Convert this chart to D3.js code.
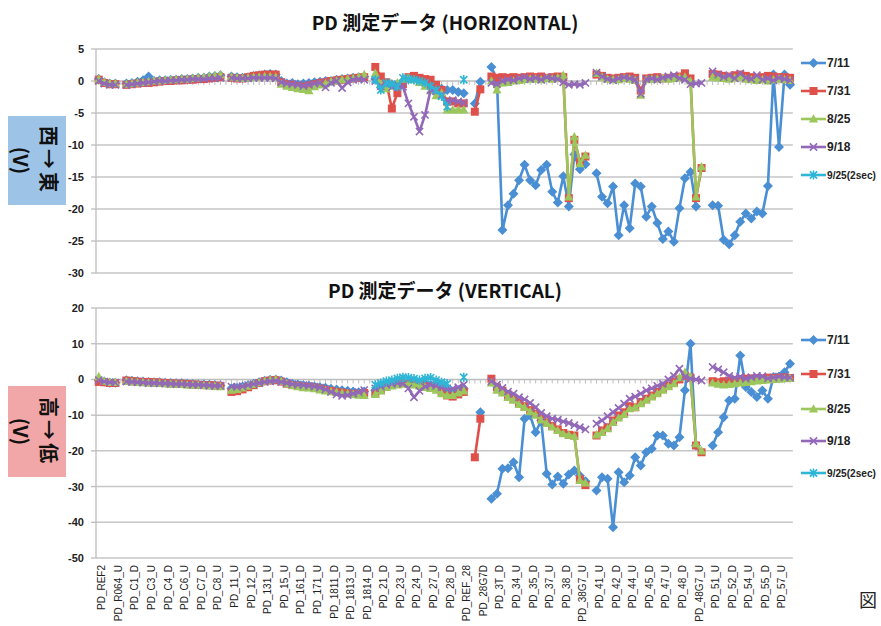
<!DOCTYPE html>
<html>
<head>
<meta charset="utf-8">
<script src="https://cdn.jsdelivr.net/npm/d3@7"></script>
<style>
body { margin: 0; background: #fff; }
svg { display: block; }
text { font-family: "Liberation Sans", Arial, sans-serif; }
.jp { font-family: "Noto Sans CJK JP", "Liberation Sans", sans-serif; }
</style>
</head>
<body>
<div id="chart"></div>
<script>
var _ = null;

// 126 measuring points (only every third name is printed on the axis)
var categories = [
  "PD_REF2","PD_REF3","PD_R064_D","PD_R064_U","PD_C0_D","PD_C1_U","PD_C1_D","PD_C2_U","PD_C2_D","PD_C3_U",
  "PD_C3_D","PD_C4_U","PD_C4_D","PD_C5_U","PD_C5_D","PD_C6_U","PD_C6_D","PD_C7_U","PD_C7_D","PD_C80_D",
  "PD_C8_D","PD_C8_U","PD_10_U","PD_11_D","PD_11_U","PD_121_D","PD_12_U","PD_12_D","PD_13_U","PD_131_D",
  "PD_131_U","PD_14_D","PD_15_D","PD_15_U","PD_16_U","PD_161_U","PD_161_D","PD_17_D","PD_171_D","PD_171_U",
  "PD_18_U","PD_1811_U","PD_1811_D","PD_1812_U","PD_1813_D","PD_1813_U","PD_1814_U","PD_1815_D","PD_1814_D","PD_21_U",
  "PD_22_D","PD_21_D","PD_22_U","PD_23_D","PD_23_U","PD_24_U","PD_25_D","PD_24_D","PD_26_U","PD_27_D",
  "PD_27_U","PD_28_U","PD_29_D","PD_28_D","PD_REF_21","PD_REF_24","PD_REF_28","PD_28G7U","PD_3T_U","PD_28G7D",
  "PD_31_U","PD_32_D","PD_3T_D","PD_33_U","PD_34_D","PD_34_U","PD_35_U","PD_36_D","PD_35_D","PD_36_U",
  "PD_37_D","PD_37_U","PD_38_U","PD_39_D","PD_38_D","PD_38G7_D","PD_39_U","PD_38G7_U","PD_41_D","PD_40_U",
  "PD_41_U","PD_42_U","PD_43_D","PD_42_D","PD_43_U","PD_44_D","PD_44_U","PD_45_U","PD_46_D","PD_45_D",
  "PD_46_U","PD_47_D","PD_47_U","PD_48_U","PD_49_D","PD_48_D","PD_48G7_D","PD_49_U","PD_48G7_U","PD_51_D",
  "PD_50_U","PD_51_U","PD_52_U","PD_53_D","PD_52_D","PD_53_U","PD_54_D","PD_54_U","PD_55_U","PD_56_D",
  "PD_55_D","PD_56_U","PD_57_D","PD_57_U","PD_58_D","PD_58_U"
];

var seriesNames = ["7/11", "7/31", "8/25", "9/18", "9/25(2sec)"];

// ---- HORIZONTAL (top) ----
var hBlue = [
  0.3, -0.2, -0.4, -0.4, _,
  -0.4, -0.3, -0.1, 0.1, 0.7, 0.0, 0.1, 0.1, 0.2, 0.2, 0.3, 0.3, 0.4, 0.5, 0.5, 0.7, 0.8, 0.9, _,
  0.7, 0.6, 0.5, 0.6, 0.8, 0.9, 1.0, 1.1, 1.0, 0.0, -0.4, -0.3, -0.5, -0.4, -0.3, -0.2, -0.1, 0.0, 0.0, 0.2, 0.3, 0.4, 0.5, 0.6, 0.7, _,
  0.3, -1.0, -0.5, -0.6, -0.5, 0.0, 0.3, 0.4, 0.2, 0.0, -0.6, -1.0, -1.2, -1.4, -1.4, -1.7, -1.9, _,
  -3.5, -0.1, _,
  2.2, 0.2, -23.3, -19.4, -17.6, -15.5, -13.1, -15.5, -16.3, -13.9, -13.1, -17.3, -19.0, -14.9, -19.6, -11.5, -13.8, -13.0, _,
  -14.4, -18.1, -19.1, -16.5, -24.1, -19.4, -23.0, -16.0, -16.5, -21.2, -19.6, -22.2, -24.7, -23.5, -25.1, -19.9, -15.2, -14.2, -19.6, _, _,
  -19.4, -19.5, -24.8, -25.5, -24.1, -22.0, -20.7, -21.5, -20.4, -20.7, -16.4, 1.0, -10.3, 1.0, -0.6
];
var hRed = [
  0.2, -0.3, -0.5, -0.5, _,
  -0.6, -0.5, -0.4, -0.3, -0.3, -0.2, -0.1, 0.0, 0.0, 0.1, 0.1, 0.2, 0.2, 0.3, 0.3, 0.4, 0.5, 0.6, _,
  0.5, 0.4, 0.4, 0.6, 0.8, 0.9, 1.0, 1.0, 1.0, -0.2, -0.5, -0.6, -0.8, -0.9, -0.7, -0.5, -0.3, -0.2, 0.0, 0.1, 0.2, 0.3, 0.4, 0.5, 0.6, _,
  2.2, 0.7, -0.2, -4.3, -1.9, -0.5, 0.6, 0.8, 0.5, 0.3, 0.2, -0.6, -1.4, -3.2, -3.2, -3.5, -3.5, _,
  -4.8, -1.3, _,
  0.7, 0.5, 0.6, 0.5, 0.6, 0.5, 0.6, 0.7, 0.6, 0.7, 0.5, 0.6, 0.7, 0.6, -18.3, -9.2, -12.6, -11.8, _,
  1.0, 0.8, 0.5, 0.4, 0.5, 0.6, 0.7, 0.5, -1.5, 0.4, 0.5, 0.6, 0.4, 0.5, 0.6, 0.7, 1.2, 0.4, -18.3, -13.6, _,
  1.1, 1.0, 0.8, 0.7, 0.9, 1.0, 0.8, 0.6, 0.5, 0.6, 0.8, 0.7, 0.6, 0.6, 0.5
];
var hGreen = [
  0.3, -0.2, -0.4, -0.4, _,
  -0.5, -0.4, -0.3, -0.2, -0.1, 0.0, 0.0, 0.1, 0.2, 0.2, 0.3, 0.3, 0.4, 0.5, 0.6, 0.7, 0.8, 1.0, _,
  0.6, 0.5, 0.4, 0.5, 0.6, 0.6, 0.7, 0.7, 0.6, -0.5, -0.8, -1.0, -1.2, -1.3, -1.5, -0.9, -0.6, -0.4, -0.1, 0.0, 0.2, 0.3, 0.4, 0.6, 1.0, _,
  1.2, -0.5, -1.2, -0.8, -0.3, 0.3, 0.5, 0.2, -0.2, -0.8, -1.5, -2.3, -1.9, -4.5, -4.5, -4.5, -4.5, _,
  _, _, _,
  0.0, -1.4, -0.3, -0.2, 0.0, 0.1, 0.2, 0.3, 0.3, 0.2, 0.4, 0.3, 0.5, 0.9, -18.1, -8.7, -12.9, -11.6, _,
  1.2, 0.6, 0.3, 0.2, 0.2, 0.4, 0.3, 0.1, -2.2, 0.2, 0.3, 0.3, 0.4, 0.3, 0.4, 0.5, 0.6, 0.0, -18.1, -13.4, _,
  0.6, 0.5, 0.4, 0.3, 0.5, 0.6, 0.3, 0.2, 0.1, 0.2, 0.0, 0.2, 0.3, 0.2, 0.1
];
var hPurple = [
  0.0, -0.4, -0.6, -0.6, _,
  -0.6, -0.5, -0.4, -0.3, -0.2, -0.1, 0.0, 0.0, 0.1, 0.1, 0.2, 0.2, 0.3, 0.3, 0.3, 0.4, 0.4, 0.5, _,
  0.5, 0.4, 0.4, 0.4, 0.5, 0.5, 0.5, 0.5, 0.4, -0.2, -0.4, -0.5, -0.6, -0.8, -0.6, -0.4, -0.3, -1.0, -0.3, 0.0, -1.1, -0.2, 0.2, 0.3, 0.2, _,
  0.0, -0.8, -0.5, -1.0, -0.6, -0.9, -3.5, -5.6, -7.9, -5.3, -1.4, -1.6, -2.2, -3.2, -3.0, -3.2, -3.4, _,
  _, _, _,
  -0.3, -0.5, 0.0, 0.2, 0.1, 0.4, 0.6, 0.3, 0.5, 0.2, 0.6, 0.4, 0.3, -0.2, -0.6, -0.5, -0.6, -0.3, _,
  1.3, 0.7, 0.3, 0.1, 0.4, 0.6, 0.4, 0.2, -2.0, 0.3, 0.4, 0.2, 0.5, 0.7, 0.9, 0.4, 0.2, -0.5, -0.4, -0.3, _,
  1.5, 1.0, 0.6, 0.9, 0.4, 1.2, 0.5, 0.3, 0.9, 0.2, 0.4, 0.1, 0.5, 0.3, 0.1
];
// 9/25 was only measured from point 50 on
var hCyanStart = 50;
var hCyan = [0.2, -1.4, -0.3, -0.5, -0.9, 0.5, 0.3, 0.2, 0.0, -0.3, -0.8, -1.4, -2.4, -4.0, _, _, 0.2];

// ---- VERTICAL (bottom) ----
var vBlue = [
  -0.3, -0.6, -0.9, -0.9, _,
  -0.2, -0.4, -0.5, -0.6, -0.7, -0.8, -0.8, -0.9, -1.0, -1.1, -1.1, -1.2, -1.3, -1.4, -1.4, -1.5, -1.6, -1.7, _,
  -2.5, -2.3, -2.0, -1.6, -1.2, -0.8, -0.4, -0.1, 0.0, -0.3, -0.8, -1.2, -1.4, -1.6, -1.8, -2.0, -2.2, -2.3, -2.6, -2.8, -3.0, -3.2, -3.4, -3.6, -3.4, _,
  -3.0, -2.2, -1.5, -1.0, -0.8, -0.6, -0.6, -0.8, -1.0, -1.2, -1.5, -1.8, -2.5, -3.2, -3.4, -3.0, -2.6, _,
  _, -9.2, _,
  -33.4, -32.0, -25.0, -24.9, -23.2, -27.4, -11.0, -10.1, -14.8, -11.5, -26.4, -29.4, -27.2, -29.2, -26.6, -25.5, -27.0, -28.5, _,
  -31.1, -27.4, -27.8, -41.4, -26.0, -28.8, -26.9, -21.8, -24.1, -20.4, -19.4, -15.7, -15.7, -18.0, -18.5, -16.2, -3.0, 10.0, -18.5, _, _,
  -18.5, -14.8, -10.6, -5.9, -5.4, 6.7, -2.1, -3.5, -4.9, -3.1, -5.4, 0.7, 0.8, 2.0, 4.4
];
var vRed = [
  -0.7, -0.8, -1.0, -1.0, _,
  -0.3, -0.5, -0.6, -0.7, -0.7, -0.8, -0.9, -1.0, -1.1, -1.2, -1.2, -1.3, -1.4, -1.5, -1.6, -1.6, -1.7, -1.8, _,
  -3.5, -3.3, -2.8, -2.2, -1.6, -1.0, -0.5, -0.3, -0.2, -0.6, -1.2, -1.6, -1.8, -2.0, -2.1, -2.3, -2.6, -2.9, -3.2, -3.5, -3.7, -3.9, -4.1, -4.0, -3.8, _,
  -4.0, -3.0, -2.0, -1.5, -1.2, -1.0, -1.0, -1.2, -1.5, -1.8, -2.0, -2.4, -3.5, -4.5, -4.8, -4.2, -3.5, _,
  -21.8, -11.0, _,
  0.2, -2.2, -3.2, -4.6, -5.5, -6.6, -7.5, -8.6, -9.6, -11.0, -12.0, -13.0, -14.0, -15.0, -15.5, -15.7, -28.0, -29.6, _,
  -15.7, -14.3, -13.4, -11.5, -10.1, -9.2, -7.5, -7.8, -6.3, -5.4, -4.5, -3.5, -2.6, -1.7, -0.7, 0.0, 1.0, 0.5, -18.5, -20.4, _,
  -0.5, -0.8, -0.5, -0.3, -0.2, 0.0, 0.2, 0.3, 0.4, 0.3, 0.5, 0.4, 0.5, 0.6, 0.4
];
var vGreen = [
  0.8, -0.5, -0.8, -0.8, _,
  -0.5, -0.7, -0.8, -0.9, -1.0, -1.0, -1.1, -1.2, -1.3, -1.3, -1.4, -1.5, -1.6, -1.6, -1.7, -1.8, -1.9, -2.0, _,
  -3.0, -2.8, -2.4, -1.9, -1.4, -0.9, -0.5, -0.2, 0.0, -0.5, -1.2, -1.7, -2.0, -2.3, -2.4, -2.6, -2.9, -3.2, -3.4, -3.6, -3.8, -4.0, -4.2, -4.4, -4.5, _,
  -4.2, -3.2, -2.2, -1.8, -1.5, -1.3, -1.3, -1.5, -1.8, -2.2, -2.5, -3.0, -4.0, -4.5, -4.5, -3.8, -3.2, _,
  _, _, _,
  -1.0, -3.0, -3.8, -5.0, -5.8, -7.0, -7.8, -9.0, -10.0, -11.3, -12.3, -13.3, -14.3, -15.2, -15.6, -15.9, -28.3, -29.0, _,
  -15.5, -14.8, -13.8, -12.0, -10.8, -9.8, -8.2, -7.8, -6.8, -5.8, -4.9, -4.0, -3.0, -2.0, -1.2, 0.5, 2.0, 0.8, -18.0, -20.0, _,
  -1.0, -1.3, -1.5, -1.4, -1.2, -1.0, -0.8, -0.6, -0.4, -0.3, -0.1, 0.0, 0.1, 0.2, 0.3
];
var vPurple = [
  -0.2, -0.6, -0.8, -0.9, _,
  -0.6, -0.7, -0.8, -0.9, -1.0, -1.0, -1.1, -1.1, -1.2, -1.3, -1.3, -1.4, -1.5, -1.5, -1.6, -1.7, -1.8, -1.8, _,
  -2.0, -2.1, -1.9, -1.6, -1.3, -1.0, -0.7, -0.5, -0.4, -0.7, -1.0, -1.3, -1.5, -1.6, -1.8, -2.0, -2.3, -2.8, -3.5, -4.2, -4.6, -4.4, -4.0, -3.6, -3.0, _,
  -2.5, -2.0, -1.5, -1.2, -1.0, -1.2, -2.5, -5.0, -3.2, -2.0, -1.5, -1.8, -2.2, -2.5, -2.6, -2.2, -1.5, _,
  _, _, _,
  -0.5, -1.5, -2.4, -3.4, -4.0, -5.0, -5.6, -6.6, -7.8, -9.4, -10.3, -11.0, -11.3, -11.8, -12.2, -12.8, -13.4, -14.0, _,
  -12.4, -11.5, -10.3, -9.2, -8.0, -6.8, -5.4, -4.8, -4.0, -3.1, -2.5, -1.8, -1.2, 0.0, 1.0, 3.0, 0.7, 0.2, 0.0, -0.3, _,
  3.5, 2.8, 2.0, 1.0, 0.5, 0.8, 0.2, 0.6, 1.0, 0.9, 0.3, 0.5, 0.8, 0.6, 0.5
];
var vCyanStart = 50;
var vCyan = [-1.5, -1.0, -0.5, -0.2, 0.3, 0.6, 0.5, 0.2, -0.2, 0.3, 0.5, -0.2, -0.8, -1.2, _, _, 0.6];

var hTicks = [5, 0, -5, -10, -15, -20, -25, -30];
var vTicks = [20, 10, 0, -10, -20, -30, -40, -50];

// ---------------------------------------------------------------
var W = 881, H = 626;
var colors = ["#4a8fd3", "#e0504b", "#9cc75c", "#9268b8", "#2fb5d6"];
var shapes = ["diamond", "square", "triangle", "cross", "asterisk"];

var svg = d3.select("#chart").append("svg")
    .attr("width", W)
    .attr("height", H);

var x = d3.scaleBand()
    .domain(d3.range(categories.length))
    .range([96, 792.8]);

function cx(i) { return x(i) + x.bandwidth() / 2; }

function spread(start, vals) {
  // place a short series on the full category index
  return categories.map(function(c, i) {
    var v = vals[i - start];
    return (i >= start && v !== undefined) ? v : null;
  });
}

function marker(g, shape, color) {
  if (shape == "diamond") {
    g.append("path").attr("d", "M0,-5L5,0L0,5L-5,0Z").attr("fill", color);
  } else if (shape == "square") {
    g.append("path").attr("d", "M-4,-4H4V4H-4Z").attr("fill", color);
  } else if (shape == "triangle") {
    g.append("path").attr("d", "M0,-4.8L4.6,3.6H-4.6Z").attr("fill", color);
  } else if (shape == "cross") {
    g.append("path").attr("d", "M-3.6,-3.6L3.6,3.6M-3.6,3.6L3.6,-3.6")
      .attr("stroke", color).attr("stroke-width", 1.6).attr("fill", "none");
  } else {
    g.append("path").attr("d", "M-3.6,-3.6L3.6,3.6M-3.6,3.6L3.6,-3.6M0,-4.6V4.6")
      .attr("stroke", color).attr("stroke-width", 1.6).attr("fill", "none");
  }
}

function drawPanel(cfg) {
  var y = d3.scaleLinear().domain(cfg.domain).range(cfg.range);
  var g = svg.append("g");
  var x0 = x.range()[0], x1 = x.range()[1];

  // gridlines
  g.selectAll(".grid").data(cfg.ticks.filter(function(t) { return t != 0; }))
    .enter().append("line")
    .attr("x1", x0).attr("x2", x1)
    .attr("y1", function(d) { return y(d); })
    .attr("y2", function(d) { return y(d); })
    .attr("stroke", "#c6c6c6").attr("stroke-width", 1.5);

  // value axis
  g.append("line").attr("x1", x0).attr("x2", x0)
    .attr("y1", cfg.range[1]).attr("y2", cfg.range[0])
    .attr("stroke", "#bdbdbd").attr("stroke-width", 1.3);
  g.selectAll(".ytick").data(cfg.ticks).enter().append("line")
    .attr("x1", x0 - 5).attr("x2", x0)
    .attr("y1", function(d) { return y(d); })
    .attr("y2", function(d) { return y(d); })
    .attr("stroke", "#bdbdbd").attr("stroke-width", 1.3);
  g.selectAll(".ylab").data(cfg.ticks).enter().append("text")
    .attr("x", 84).attr("y", function(d) { return y(d); })
    .attr("dy", "0.36em")
    .attr("text-anchor", "end")
    .attr("font-size", "11px").attr("font-weight", "bold").attr("fill", "#222")
    .text(function(d) { return d; });

  // category axis crossing at 0
  g.append("line").attr("x1", x0).attr("x2", x1)
    .attr("y1", y(0)).attr("y2", y(0))
    .attr("stroke", "#bdbdbd").attr("stroke-width", 1.5);
  g.selectAll(".xtick").data(categories).enter().append("line")
    .attr("x1", function(d, i) { return cx(i); })
    .attr("x2", function(d, i) { return cx(i); })
    .attr("y1", y(0)).attr("y2", y(0) + 4)
    .attr("stroke", "#bdbdbd").attr("stroke-width", 1);

  // series
  var line = d3.line()
    .defined(function(d) { return d != null; })
    .x(function(d, i) { return cx(i); })
    .y(function(d) { return y(d); });

  cfg.series.forEach(function(vals, s) {
    g.append("path").datum(vals)
      .attr("d", line)
      .attr("fill", "none")
      .attr("stroke", colors[s])
      .attr("stroke-width", 2.6)
      .attr("stroke-linejoin", "round");
    vals.forEach(function(v, i) {
      if (v == null) return;
      var m = g.append("g").attr("transform", "translate(" + cx(i) + "," + y(v) + ")");
      marker(m, shapes[s], colors[s]);
    });
  });

  // legend
  seriesNames.forEach(function(name, s) {
    var ly = cfg.legendY[s];
    var lg = svg.append("g");
    lg.append("line").attr("x1", 801).attr("x2", 826)
      .attr("y1", ly).attr("y2", ly)
      .attr("stroke", colors[s]).attr("stroke-width", 2.6);
    marker(lg.append("g").attr("transform", "translate(813.5," + ly + ")"), shapes[s], colors[s]);
    var t = lg.append("text").attr("x", 827).attr("y", ly).attr("dy", "0.36em")
      .attr("font-size", "12px").attr("font-weight", "bold").attr("fill", "#222")
      .text(name);
    if (name.length > 5) t.attr("font-size", "11px").attr("textLength", 49).attr("lengthAdjust", "spacingAndGlyphs");
  });

  // title
  svg.append("text").attr("class", "jp")
    .attr("x", 445).attr("y", cfg.titleY)
    .attr("text-anchor", "middle")
    .attr("font-size", "19px").attr("font-weight", "bold").attr("fill", "#111")
    .text(cfg.title);

  // coloured axis label box
  svg.append("rect")
    .attr("x", 8).attr("y", cfg.box[0]).attr("width", 58).attr("height", cfg.box[1] - cfg.box[0])
    .attr("fill", cfg.boxColor);
  var bt = svg.append("text").attr("class", "jp")
    .attr("transform", "translate(37," + (cfg.box[0] + cfg.box[1]) / 2 + ") rotate(90)")
    .attr("text-anchor", "middle")
    .attr("font-size", "20px").attr("font-weight", "bold").attr("fill", "#111");
  bt.append("tspan").attr("x", 0).attr("y", -4).attr("letter-spacing", "3px").text(cfg.boxText);
  bt.append("tspan").attr("x", 0).attr("y", 24).text("(V)");
}

drawPanel({
  domain: [-30, 5], range: [273, 49], ticks: hTicks,
  series: [hBlue, hRed, hGreen, hPurple, spread(hCyanStart, hCyan)],
  legendY: [63, 91, 119, 147, 175],
  title: "PD 測定データ (HORIZONTAL)", titleY: 30,
  box: [116, 205], boxColor: "#9dc3e6", boxText: "西→東"
});

drawPanel({
  domain: [-50, 20], range: [558, 308], ticks: vTicks,
  series: [vBlue, vRed, vGreen, vPurple, spread(vCyanStart, vCyan)],
  legendY: [340, 374, 409, 441, 473],
  title: "PD 測定データ (VERTICAL)", titleY: 298,
  box: [386, 477], boxColor: "#f1a7a7", boxText: "高→低"
});

// category labels under the lower chart (every third point)
svg.selectAll(".xlab")
  .data(categories.map(function(c, i) { return {name: c, i: i}; })
    .filter(function(d) { return d.i % 3 == 0; }))
  .enter().append("text")
  .attr("transform", function(d) { return "translate(" + (cx(d.i) + 3) + ",565) rotate(-90)"; })
  .attr("dy", "0.35em")
  .attr("text-anchor", "end")
  .attr("font-size", "10px").attr("fill", "#222")
  .text(function(d) { return d.name; });

svg.append("text").attr("class", "jp")
  .attr("x", 868).attr("y", 607)
  .attr("text-anchor", "middle")
  .attr("font-size", "18px").attr("fill", "#222")
  .text("図");
</script>
</body>
</html>
